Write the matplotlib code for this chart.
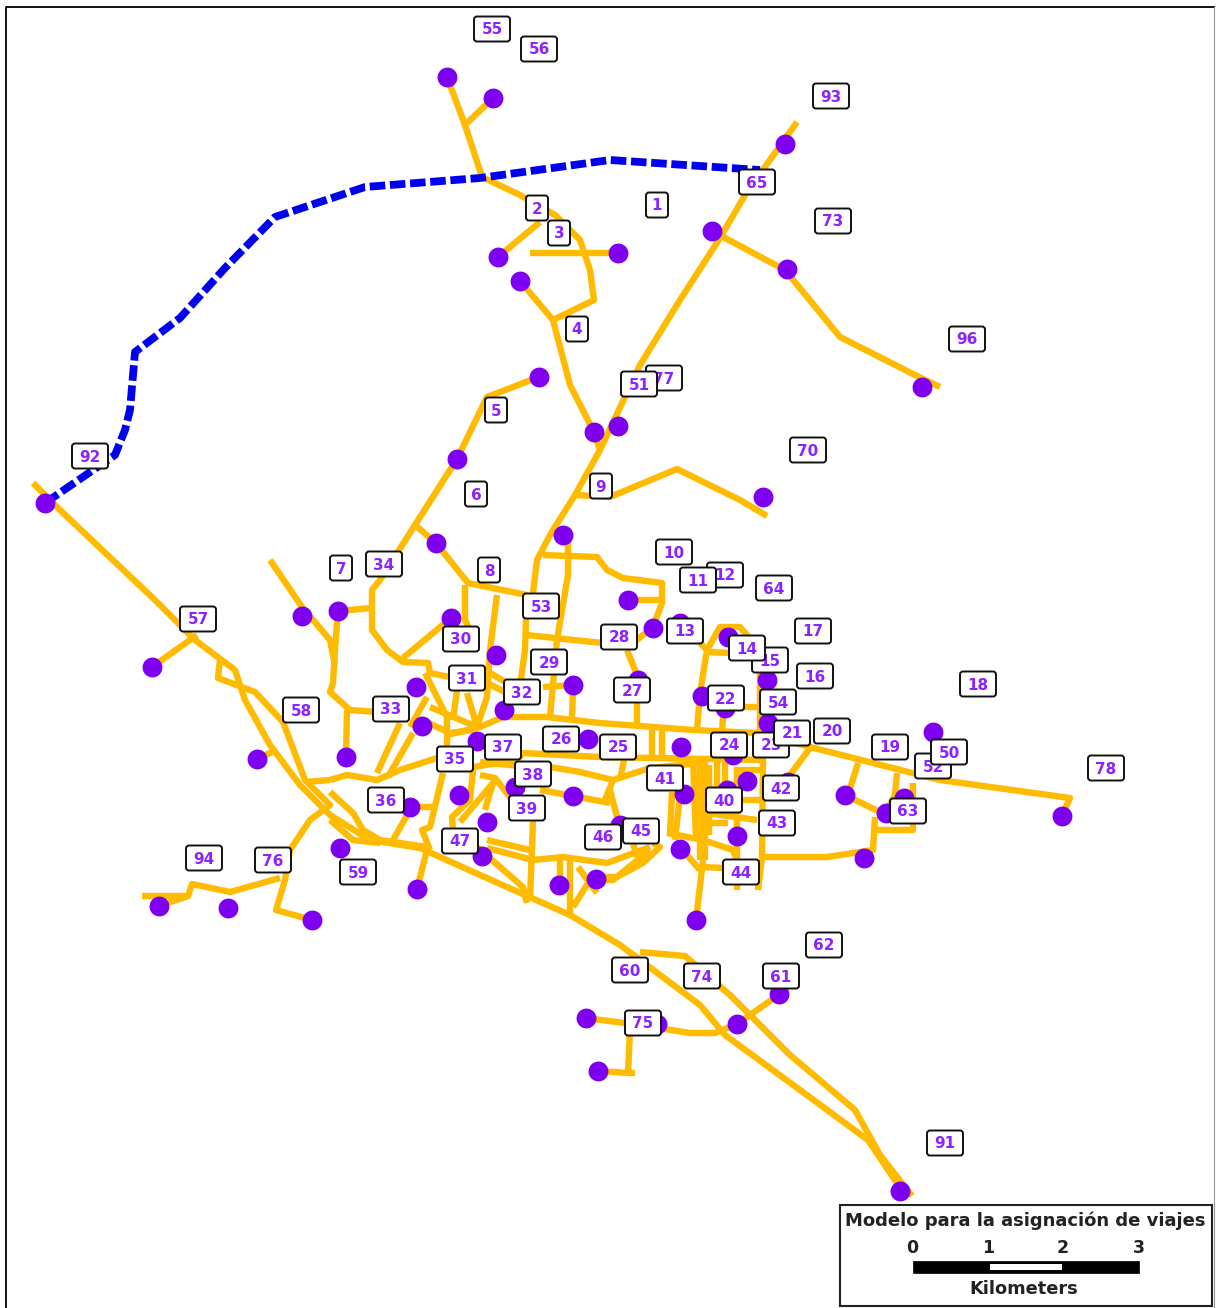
import matplotlib
matplotlib.use('Agg')
import matplotlib.pyplot as plt
from matplotlib.patches import Rectangle, FancyBboxPatch

roads = [
    [(33,483),(60,510),(155,600),(195,640),(235,670),(245,700),(270,745),(300,785),(330,815),(370,840),(420,848),(480,875),(525,895),(570,915),(620,945),(660,975),(700,1005),(725,1035),(800,1090),(868,1140),(905,1195)],
    [(640,952),(685,956),(730,995),(790,1055),(855,1110),(880,1155),(912,1196)],
    [(797,122),(745,195),(720,238),(680,300),(640,365),(600,450),(575,495),(550,535),(537,560),(533,593),(526,620),(525,650),(518,700)],
    [(447,77),(465,125),(482,177),(520,195),(555,215),(580,240),(590,270),(594,300),(553,320),(520,281)],
    [(493,98),(465,125)],
    [(498,257),(540,222)],
    [(530,253),(618,253)],
    [(553,320),(570,385),(594,432),(600,450)],
    [(539,377),(487,397),(457,459),(415,525),(436,543),(468,583),(527,595)],
    [(415,525),(380,580),(372,590),(372,630),(387,650),(403,662),(428,663),(430,673),(450,677)],
    [(712,231),(785,270),(840,337),(915,375),(940,387)],
    [(575,495),(610,497),(677,469),(740,500),(767,516)],
    [(338,611),(372,608)],
    [(338,611),(335,650),(333,683),(330,692),(350,710),(377,712)],
    [(346,757),(347,710)],
    [(270,560),(302,607),(330,640),(335,665)],
    [(403,658),(445,623)],
    [(465,585),(465,620),(470,630)],
    [(497,595),(490,650),(487,697),(477,727)],
    [(568,540),(568,575),(557,640),(550,717)],
    [(543,555),(597,557),(607,570),(623,578),(662,583),(662,603),(653,627),(633,643)],
    [(628,600),(662,600)],
    [(527,635),(573,640),(603,643)],
    [(627,650),(637,675)],
    [(447,735),(480,727),(503,717),(547,717),(600,723),(693,730),(757,733),(810,747),(940,780),(1070,798),(1062,816)],
    [(440,765),(473,767),(517,760),(523,753),(600,757),(763,760)],
    [(550,767),(580,772),(613,780),(650,768),(700,763)],
    [(480,762),(540,768)],
    [(540,790),(573,796),(610,803)],
    [(613,780),(605,800)],
    [(610,790),(617,817)],
    [(626,750),(620,780)],
    [(443,773),(430,827),(422,830),(430,850)],
    [(473,770),(470,800),(452,817),(453,830)],
    [(460,822),(493,783),(485,810)],
    [(480,775),(495,778),(510,797)],
    [(400,723),(377,773)],
    [(413,733),(388,777)],
    [(330,780),(347,775),(377,780),(400,770),(437,758)],
    [(330,792),(353,813),(363,830),(380,840),(427,847)],
    [(330,820),(353,840),(380,843)],
    [(410,810),(393,840)],
    [(410,807),(437,807)],
    [(427,850),(417,889)],
    [(425,673),(447,717),(447,747)],
    [(457,690),(453,720)],
    [(467,693),(477,727)],
    [(427,697),(410,727)],
    [(422,720),(450,733),(473,730)],
    [(430,707),(477,727)],
    [(490,673),(507,683)],
    [(487,683),(507,693)],
    [(543,687),(573,685)],
    [(572,717),(573,690)],
    [(637,700),(637,725)],
    [(487,840),(530,850)],
    [(487,848),(533,860),(563,857),(607,863),(650,847)],
    [(533,820),(530,900)],
    [(477,847),(523,887),(527,903)],
    [(570,860),(570,915)],
    [(560,860),(560,885)],
    [(578,867),(597,893)],
    [(573,907),(590,880)],
    [(597,880),(613,880),(650,850)],
    [(653,843),(660,847),(643,863),(617,877),(600,877)],
    [(633,843),(637,857)],
    [(700,643),(707,650),(700,693),(697,730)],
    [(707,650),(720,627),(740,627),(760,650),(760,730),(763,760),(762,857),(758,890)],
    [(707,652),(733,653)],
    [(723,717),(722,733)],
    [(743,707),(760,707)],
    [(652,730),(652,760)],
    [(662,730),(662,760)],
    [(700,757),(700,860)],
    [(693,757),(696,840)],
    [(705,760),(705,860)],
    [(709,765),(709,835)],
    [(672,792),(670,835)],
    [(680,795),(675,840)],
    [(725,760),(725,790)],
    [(737,767),(737,890)],
    [(717,762),(717,790)],
    [(740,800),(760,800)],
    [(740,770),(760,770)],
    [(707,813),(757,820)],
    [(707,823),(728,823)],
    [(667,833),(703,840),(733,850),(737,860)],
    [(703,867),(723,868)],
    [(703,860),(696,920)],
    [(680,847),(700,870)],
    [(760,857),(827,857),(873,850),(875,817)],
    [(875,830),(913,830),(913,783)],
    [(845,795),(880,812)],
    [(858,763),(848,795)],
    [(897,773),(895,795),(887,810)],
    [(810,748),(790,775)],
    [(152,667),(197,635)],
    [(220,660),(218,678),(255,692),(283,722),(305,780),(330,805),(310,820),(290,850),(285,880),(276,910),(312,920)],
    [(142,896),(188,896),(192,884),(230,892),(280,878)],
    [(159,906),(188,896)],
    [(257,759),(272,752)],
    [(305,782),(330,780)],
    [(586,1018),(640,1025),(690,1033),(715,1033),(737,1024),(780,994)],
    [(630,1030),(628,1073),(635,1073)],
    [(598,1071),(628,1073)],
]

busway = [(45,503),(115,455),(125,430),(130,410),(135,352),(180,318),(225,268),(275,217),(365,187),(480,178),(610,160),(760,170)]

stop_x = [447,493,785,712,498,618,520,787,922,539,594,618,457,763,45,563,436,628,653,680,302,338,451,152,496,728,767,638,573,416,702,725,504,768,422,477,588,681,933,733,257,346,747,788,515,459,573,684,727,410,845,904,886,1062,487,620,737,680,340,482,864,596,559,417,159,228,312,696,779,737,657,586,598,900]
stop_y = [77,98,144,231,257,253,281,269,387,377,432,426,459,497,503,535,543,600,628,623,616,611,618,667,655,637,680,680,685,687,696,708,710,723,726,741,739,747,732,755,759,757,781,782,787,795,796,794,790,807,795,798,813,816,822,825,836,849,848,856,858,879,885,889,906,908,920,920,994,1024,1024,1018,1071,1191]

zone_names = ['55','56','93','65','2','1','3','73','4','96','77','51','5','92','70','9','6','10','12','11','64','7','34','8','53','57','13','17','28','30','15','14','29','16','31','18','27','32','22','54','58','33','20','23','21','26','25','37','24','19','52','50','35','78','38','41','42','36','40','39','63','43','45','46','47','94','76','59','44','62','60','74','61','75','91']
zone_x = [492,539,831,757,537,657,559,833,577,967,664,639,496,90,808,601,476,674,725,698,774,341,384,489,541,198,685,813,619,461,770,747,549,815,467,978,632,522,726,778,301,391,832,771,792,561,618,503,729,890,933,949,455,1106,533,665,781,386,724,527,908,777,641,603,460,204,273,358,741,824,630,702,781,643,945]
zone_y = [29,49,96,182,208,205,233,221,329,339,378,384,410,456,450,486,494,552,575,580,588,568,564,570,606,619,631,631,637,639,660,648,662,676,678,684,690,692,698,702,710,709,731,745,733,739,747,747,745,747,766,752,759,768,774,778,788,800,800,808,811,823,831,837,841,858,860,872,872,945,970,976,976,1023,1143]

scale_ticks = [0, 1, 2, 3]
scale_x = [912, 988, 1063, 1139]

fig = plt.figure(figsize=(12.17, 13.08), dpi=100)
ax = fig.add_axes([0, 0, 1, 1])
ax.set_xlim(0, 1217)
ax.set_ylim(1308, 0)
ax.axis('off')
plt.rcParams['font.family'] = ['DejaVu Sans']

# marco del mapa
ax.plot([6, 6, 1214], [1308, 7, 7], color='#111111', lw=1.4, zorder=1)
ax.plot([1214, 1214], [7, 1308], color='#999999', lw=0.8, zorder=1)

for road in roads:
    xs = [p[0] for p in road]
    ys = [p[1] for p in road]
    ax.plot(xs, ys, color='#FFBB00', lw=4.6, solid_capstyle='butt', solid_joinstyle='round', zorder=2)

ax.plot([p[0] for p in busway], [p[1] for p in busway], color='#0000EE', lw=5.6,
        linestyle=(0, (2.0, 0.6)), dash_capstyle='butt', zorder=3)

ax.scatter(stop_x, stop_y, s=205, color='#7F00F0', linewidths=0, zorder=4)

for i, name in enumerate(zone_names):
    w = 36 if len(name) > 1 else 22
    z = 5 + i * 0.01
    ax.add_patch(FancyBboxPatch((zone_x[i] - w / 2, zone_y[i] - 12.5), w, 25,
                                boxstyle='round,pad=0,rounding_size=3', fc='white', ec='#111111', lw=1.4, zorder=z))
    ax.text(zone_x[i], zone_y[i] - 0.5, name, ha='center', va='center_baseline', fontsize=11,
            fontweight='bold', color='#8B22FF', zorder=z + 0.001)

# leyenda con la escala
ax.add_patch(Rectangle((840, 1205), 372, 101, fc='white', ec='#222222', lw=1.5, zorder=6))
ax.text(1025, 1221, 'Modelo para la asignación de viajes', ha='center', va='center',
        fontsize=13, fontweight='bold', color='#222222', zorder=7)
for t, x in zip(scale_ticks, scale_x):
    ax.text(x, 1248, str(t), ha='center', va='center', fontsize=12.5, fontweight='bold', color='#222222', zorder=7)
ax.add_patch(Rectangle((913, 1261), 226, 12, fc='black', ec='black', lw=0.5, zorder=7))
ax.add_patch(Rectangle((990, 1264), 72, 6, fc='white', ec='none', zorder=8))
ax.text(1024, 1289, 'Kilometers', ha='center', va='center', fontsize=12.8, fontweight='bold', color='#222222', zorder=7)

fig.savefig('out.png', dpi=100)
